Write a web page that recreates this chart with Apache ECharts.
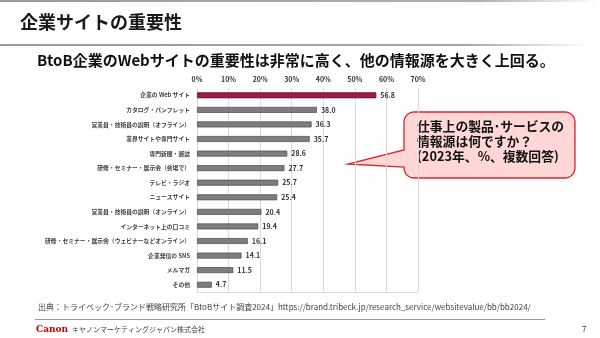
<!DOCTYPE html>
<html>
<head>
<meta charset="utf-8">
<script src="https://cdn.jsdelivr.net/npm/echarts@6/dist/echarts.min.js"></script>
<style>
html,body{margin:0;padding:0;background:#fff;}
#c{width:600px;height:338px;}
</style>
</head>
<body>
<div id="c"></div>
<script>
const categories = [
  '企業の Web サイト',
  'カタログ・パンフレット',
  '営業員・技術員の説明（オフライン）',
  '業界サイトや専門サイト',
  '専門新聞・雑誌',
  '研修・セミナー・展示会（会場で）',
  'テレビ・ラジオ',
  'ニュースサイト',
  '営業員・技術員の説明（オンライン）',
  'インターネット上の口コミ',
  '研修・セミナー・展示会（ウェビナーなどオンライン）',
  '企業発信の SNS',
  'メルマガ',
  'その他'
];
const values = [56.8, 38.0, 36.3, 35.7, 28.6, 27.7, 25.7, 25.4, 20.4, 19.4, 16.1, 14.1, 11.5, 4.7];
const axisMin = 0, axisMax = 70, axisStep = 10;

const FONT = '"Noto Sans CJK JP", "Noto Sans", sans-serif';
const HIGHLIGHT = '#9a1c4d', HIGHLIGHT_BORDER = '#6e0f35';
const BAR = '#7d7d7d', BAR_BORDER = '#555555';

const chart = echarts.init(document.getElementById('c'), null, {renderer: 'canvas'});

const barData = values.map((v, i) => ({
  value: v,
  itemStyle: i === 0
    ? {color: HIGHLIGHT, borderColor: HIGHLIGHT_BORDER, borderWidth: 0.8}
    : {color: BAR, borderColor: BAR_BORDER, borderWidth: 0.8}
}));

// Callout outline (rounded box with a pointer on the left side)
function calloutPoints(x0, y0, x1, y1, r, tip, baseTop, baseBottom) {
  const pts = [];
  const arc = (cx, cy, a0, a1) => {
    for (let k = 0; k <= 8; k++) {
      const a = a0 + (a1 - a0) * k / 8;
      pts.push([cx + r * Math.cos(a), cy + r * Math.sin(a)]);
    }
  };
  arc(x0 + r, y0 + r, Math.PI, Math.PI * 1.5);
  arc(x1 - r, y0 + r, Math.PI * 1.5, Math.PI * 2);
  arc(x1 - r, y1 - r, 0, Math.PI * 0.5);
  arc(x0 + r, y1 - r, Math.PI * 0.5, Math.PI);
  pts.push([x0, baseBottom]);
  pts.push(tip);
  pts.push([x0, baseTop]);
  return pts;
}

chart.setOption({
  animation: false,
  backgroundColor: '#ffffff',
  textStyle: {fontFamily: FONT},
  grid: {left: 197, right: 182, top: 88, height: 204, containLabel: false},
  xAxis: [{
    type: 'value', position: 'top', min: axisMin, max: axisMax, interval: axisStep,
    axisLine: {show: false}, axisTick: {show: false},
    axisLabel: {formatter: '{value}%', fontSize: 7, fontWeight: 'bold', color: '#333', margin: 5, fontFamily: FONT},
    splitLine: {show: true, lineStyle: {color: '#dadada', width: 1}}
  }, {
    type: 'value', position: 'bottom', min: axisMin, max: axisMax, interval: axisStep,
    axisLine: {show: true, lineStyle: {color: '#dadada', width: 1}},
    axisTick: {show: false}, axisLabel: {show: false}, splitLine: {show: false}
  }],
  yAxis: {
    type: 'category', inverse: true, data: categories,
    axisLine: {show: false}, axisTick: {show: false},
    axisLabel: {fontSize: 5.8, fontWeight: 'bold', color: '#404040', margin: 7, fontFamily: FONT}
  },
  series: [{
    type: 'bar', xAxisIndex: 0, data: barData, barWidth: 6,
    label: {
      show: true, position: 'right', distance: 4,
      fontSize: 7, fontWeight: 'bold', color: '#333', fontFamily: FONT,
      formatter: p => p.value.toFixed(1)
    }
  }],
  graphic: [
    {type: 'rect', shape: {x: 0, y: 0, width: 600, height: 2},
      style: {fill: new echarts.graphic.LinearGradient(0, 0, 1, 0, [
        {offset: 0, color: '#9a9a9a'}, {offset: 0.8, color: '#b0b0b0'}, {offset: 1, color: '#ffffff'}])}},
    {type: 'text', x: 20, y: 13,
      style: {text: '企業サイトの重要性', fontSize: 18, fontWeight: 'bold', fill: '#1a1a1a', fontFamily: FONT}},
    {type: 'rect', shape: {x: 0, y: 44, width: 600, height: 2},
      style: {fill: new echarts.graphic.LinearGradient(0, 0, 1, 0, [
        {offset: 0, color: '#9a9a9a'}, {offset: 0.78, color: '#a8a8a8'}, {offset: 0.98, color: '#ffffff'}, {offset: 1, color: '#ffffff'}])}},
    {type: 'text', x: 37, y: 53,
      style: {text: 'BtoB企業のWebサイトの重要性は非常に高く、他の情報源を大きく上回る。', fontSize: 15, fontWeight: 'bold', fill: '#111', fontFamily: FONT}},
    {type: 'polygon', shape: {points: calloutPoints(404, 112, 575, 178, 10, [348, 164], 150, 167)},
      style: {fill: '#ffd7d7', stroke: '#e0232e', lineWidth: 1.3}},
    {type: 'text', x: 417, y: 119,
      style: {text: '仕事上の製品･サービスの\n情報源は何ですか？\n(2023年、%、複数回答)', fontSize: 12.8, fontWeight: 'bold', fill: '#111', lineHeight: 15, fontFamily: FONT}},
    {type: 'text', x: 38, y: 303,
      style: {text: '出典：トライベック･ブランド戦略研究所「BtoBサイト調査2024」https://brand.tribeck.jp/research_service/websitevalue/bb/bb2024/', fontSize: 8, fill: '#404040', fontFamily: FONT}},
    {type: 'rect', shape: {x: 35, y: 319, width: 510, height: 1}, style: {fill: '#9a9a9a'}},
    {type: 'text', x: 36, y: 325,
      style: {text: 'Canon', fontSize: 9, fontWeight: 'bold', fill: '#cc0000', fontFamily: '"DejaVu Serif", serif'}},
    {type: 'text', x: 72, y: 326,
      style: {text: 'キヤノンマーケティングジャパン株式会社', fontSize: 7, fill: '#404040', fontFamily: FONT}},
    {type: 'text', x: 582, y: 325,
      style: {text: '7', fontSize: 8, fill: '#333', fontFamily: FONT}}
  ]
});
</script>
</body>
</html>
